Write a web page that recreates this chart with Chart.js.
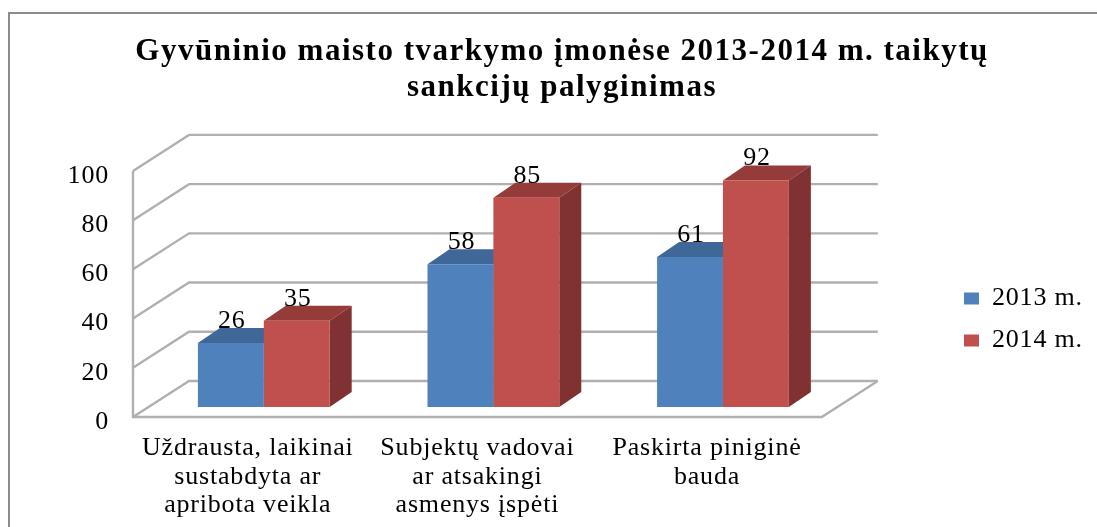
<!DOCTYPE html>
<html><head><meta charset="utf-8">
<style>html,body{margin:0;padding:0;background:#fff;overflow:hidden}#w{width:1097px;height:527px}canvas{display:block;filter:blur(0.4px)}</style>
<script src="https://cdn.jsdelivr.net/npm/chart.js@4"></script></head>
<body><div id="w"><canvas id="c" width="1097" height="527"></canvas></div>
<script>
const categories = [["Uždrausta, laikinai","sustabdyta ar","apribota veikla"],["Subjektų vadovai","ar atsakingi","asmenys įspėti"],["Paskirta piniginė","bauda"]];
const series2013 = [26,58,61];
const series2014 = [35,85,92];
const titleLines = ["Gyvūninio maisto tvarkymo įmonėse 2013-2014 m. taikytų","sankcijų palyginimas"];
const FF = '"Liberation Serif"';
const front={x:-16,y:10}, back={x:40,y:-26};
const plugin3d = {
  id:'p3d',
  beforeDraw(ch){
    const c=ch.ctx; c.save(); c.strokeStyle='#8c8c8c'; c.lineWidth=2;
    c.beginPath(); c.moveTo(9,540); c.lineTo(9,13); c.lineTo(1100,13); c.stroke(); c.restore();
    c.letterSpacing='0.8px';
  },
  afterLayout(ch){
    const l=ch.legend; l.top+=39; l.bottom+=39; l.left=948; l.right=1097;
    const t=ch.titleBlock;
    if(!t._w){ t._w=true; const o=t.draw.bind(t);
      t.draw=function(){ const c=ch.ctx; c.save(); c.letterSpacing='1.5px'; c.translate(562-(t.left+t.right)/2,0); o(); c.restore(); }; }
  },
  beforeDatasetsDraw(ch){
    const c=ch.ctx, a=ch.chartArea, y=ch.scales.y;
    c.save(); c.strokeStyle='#b0b0b0'; c.lineWidth=2.4;
    const fl=a.left+front.x, fr=a.right+front.x, bl=a.left+back.x, br=a.right+back.x;
    const v=y.ticks.map(t=>y.getPixelForValue(t.value));
    v.forEach((p,i)=>{
      c.beginPath(); c.moveTo(fl,p+front.y); c.lineTo(bl,p+back.y); c.lineTo(br,p+back.y); c.stroke();
    });
    const y0=y.getPixelForValue(0), y1=y.getPixelForValue(100);
    c.beginPath(); c.moveTo(fl,y1+front.y); c.lineTo(fl,y0+front.y); c.lineTo(fr,y0+front.y); c.lineTo(br,y0+back.y); c.stroke();
    c.restore();
    const dx=22, dy=15;
    [[0,'#3F6797','#3F6797'],[1,'#953C3A','#7F3231']].forEach(([d,top,side])=>{
      ch.getDatasetMeta(d).data.forEach(b=>{
        const L=b.x-b.width/2,R=b.x+b.width/2,T=b.y,B=b.base;
        c.fillStyle=top; c.beginPath(); c.moveTo(L,T); c.lineTo(L+dx,T-dy); c.lineTo(R+dx,T-dy); c.lineTo(R,T); c.closePath(); c.fill();
        c.fillStyle=side; c.beginPath(); c.moveTo(R,T); c.lineTo(R+dx,T-dy); c.lineTo(R+dx,B-dy); c.lineTo(R,B); c.closePath(); c.fill();
      });
    });
  },
  afterDatasetsDraw(ch){
    const c=ch.ctx; c.save(); c.fillStyle='#000'; c.font='26px '+FF; c.textAlign='center'; c.textBaseline='middle';
    ch.data.datasets.forEach((ds,d)=>ch.getDatasetMeta(d).data.forEach((b,i)=>{
      c.fillText(ds.data[i], b.x+1, b.y-22);
    }));
    c.restore();
  }
};
new Chart(document.getElementById('c'),{
  type:'bar',
  data:{labels:categories,datasets:[
    {label:'2013 m.',data:series2013,backgroundColor:'#4F81BD'},
    {label:'2014 m.',data:series2014,backgroundColor:'#C0504D'}
  ]},
  options:{
    responsive:false,animation:false,
    layout:{padding:{left:49,right:120,top:34,bottom:0}},
    datasets:{bar:{categoryPercentage:0.574,barPercentage:1}},
    scales:{
      x:{grid:{display:false},border:{display:false},afterFit(s){s.height=120;},
        ticks:{color:'#000',font:{family:FF,size:26,lineHeight:1.096},padding:19,labelOffset:-16,maxRotation:0,autoSkip:false}},
      y:{min:0,max:100,grid:{display:false},border:{display:false},afterFit(s){s.width=100;},
        ticks:{stepSize:20,color:'#000',font:{family:FF,size:26},padding:32,labelOffset:15}}
    },
    plugins:{
      tooltip:{enabled:false},
      title:{display:true,text:titleLines,color:'#000',font:{family:FF,size:31,weight:'bold',lineHeight:1.16},padding:{top:0,bottom:55}},
      legend:{position:'right',labels:{boxWidth:15,boxHeight:12,color:'#000',font:{family:FF,size:26},padding:16}}
    }
  },
  plugins:[plugin3d]
});
</script></body></html>
